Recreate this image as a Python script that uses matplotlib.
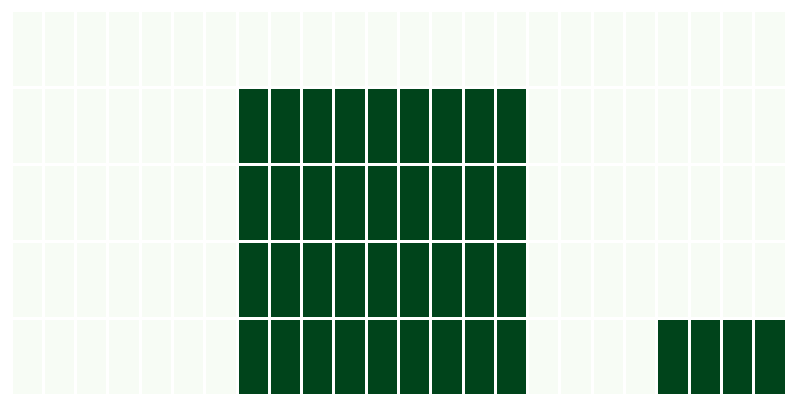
import matplotlib.pyplot as plt
import numpy as np

# rows top to bottom, 24 columns each
row_0 = [0] * 24
row_1 = [0] * 7 + [1] * 9 + [0] * 8
row_2 = [0] * 7 + [1] * 9 + [0] * 8
row_3 = [0] * 7 + [1] * 9 + [0] * 8
row_4 = [0] * 7 + [1] * 9 + [0] * 4 + [1] * 4

values = np.array([row_0, row_1, row_2, row_3, row_4])

fig = plt.figure(figsize=(7.94, 4.05), dpi=100)
ax = fig.add_axes([10.5 / 794, 10 / 405, 775 / 794, 385 / 405])

ax.pcolormesh(values, cmap="Greens", vmin=0, vmax=1, edgecolors="white", linewidth=2)
ax.set_xlim(0, values.shape[1])
ax.set_ylim(values.shape[0], 0)
ax.axis("off")

fig.savefig("out.png", dpi=100)
